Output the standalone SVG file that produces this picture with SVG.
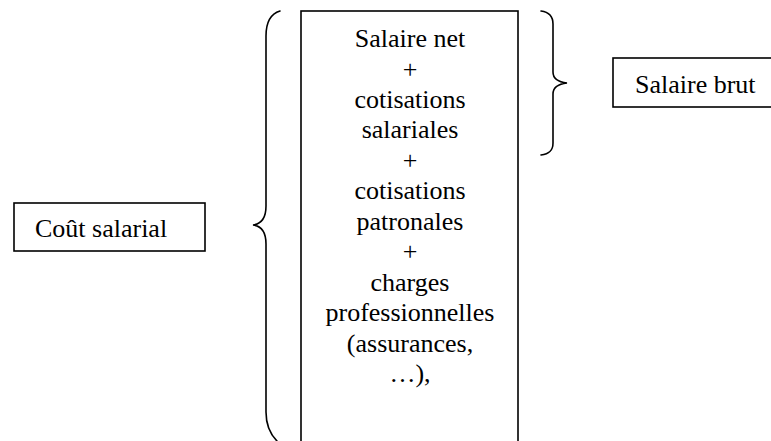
<svg xmlns="http://www.w3.org/2000/svg" width="771" height="441" viewBox="0 0 771 441">
  <style>
    .box { fill: #ffffff; stroke: #000000; stroke-width: 1.6; }
    .brace { fill: none; stroke: #000000; stroke-width: 1.6; stroke-linecap: round; }
    .t { font-family: 'Liberation Serif', serif; font-size: 26px; fill: #000000; }
    .c { text-anchor: middle; }
  </style>
  <rect width="771" height="441" fill="#ffffff"/>

  <g id="connectors">
    <!-- large brace grouping the whole composition -->
    <path class="brace" d="M280,11 C270,14 266,22 266,36 L266,206 C266,218 261,224 253,225 C261,226 266,232 266,244 L266,412 C266,426 270,434 277,441"/>
    <!-- small brace grouping the gross salary part -->
    <path class="brace" d="M541,11 C549,12 553,16 553,24 L553,72 C553,79 558,82 567,83 C558,84 553,87 553,94 L553,143 C553,151 549,154 541,155"/>
  </g>

  <g id="composition">
    <rect class="box" x="301" y="11" width="217" height="440"/>
    <text class="t c" x="410" y="47">Salaire net</text>
    <text class="t c" x="410" y="77.5">+</text>
    <text class="t c" x="410" y="108">cotisations</text>
    <text class="t c" x="410" y="138">salariales</text>
    <text class="t c" x="410" y="169">+</text>
    <text class="t c" x="410" y="199">cotisations</text>
    <text class="t c" x="410" y="230">patronales</text>
    <text class="t c" x="410" y="260">+</text>
    <text class="t c" x="410" y="291">charges</text>
    <text class="t c" x="410" y="321">professionnelles</text>
    <text class="t c" x="410" y="352">(assurances,</text>
    <text class="t c" x="410" y="382">…),</text>
  </g>

  <g id="cout-salarial">
    <rect class="box" x="14" y="203" width="191" height="48"/>
    <text class="t" x="35" y="237">Coût salarial</text>
  </g>

  <g id="salaire-brut">
    <rect class="box" x="613" y="58" width="170" height="49"/>
    <text class="t" x="635" y="93">Salaire brut</text>
  </g>
</svg>
